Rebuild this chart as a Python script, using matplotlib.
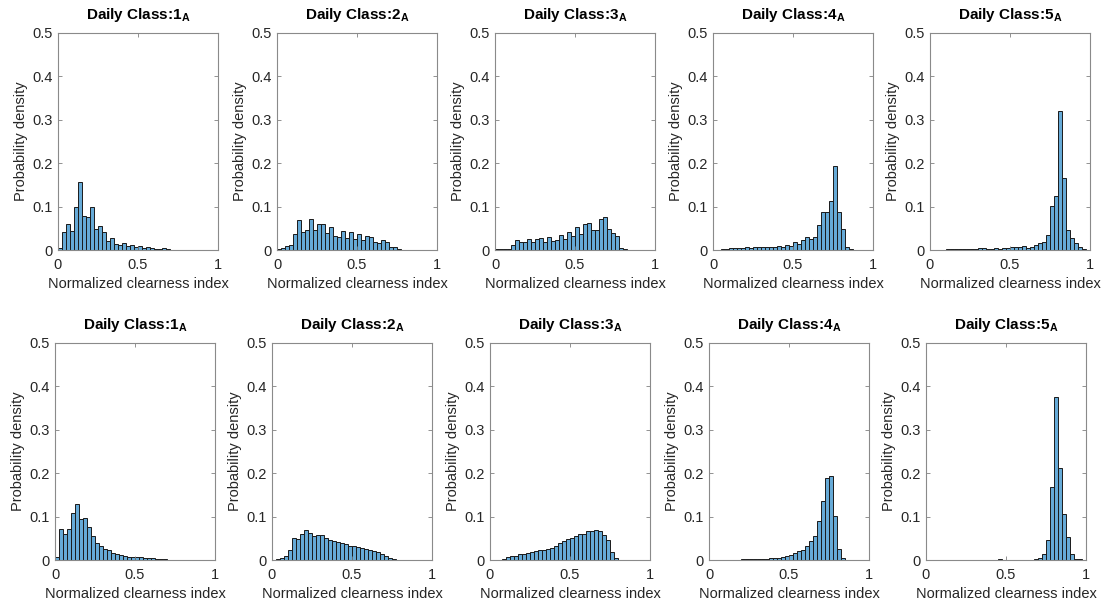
import numpy as np
import matplotlib
matplotlib.use("Agg")
import matplotlib.pyplot as plt

plt.rcParams['font.family'] = ['Liberation Sans', 'DejaVu Sans']
plt.rcParams['mathtext.fontset'] = 'custom'
plt.rcParams['mathtext.rm'] = 'Liberation Sans'
plt.rcParams['mathtext.bf'] = 'Liberation Sans:bold'

bin_edges = np.linspace(0, 1, 41)

top_1 = [0.004,0.042,0.059,0.044,0.100,0.157,0.078,0.076,0.098,0.048,0.055,0.042,0.021,0.027,0.013,0.012,0.016,0.010,0.012,0.007,
         0.010,0.005,0.006,0.005,0.002,0.003,0.004,0.002,0.001,0.0005,0.0005,0.0003,0.0003,0.0002,0.0002,0.0001,0.0001,0,0,0]
top_2 = [0.002,0.004,0.010,0.012,0.037,0.069,0.042,0.045,0.072,0.046,0.061,0.060,0.040,0.054,0.033,0.031,0.044,0.028,0.042,0.025,
         0.037,0.024,0.032,0.029,0.018,0.017,0.023,0.019,0.008,0.006,0.003,0.001,0.0005,0.0003,0.0003,0.0002,0.0002,0.0001,0.0001,0]
top_3 = [0.0015,0.0015,0.003,0.003,0.012,0.023,0.018,0.018,0.025,0.018,0.025,0.028,0.019,0.031,0.021,0.022,0.035,0.025,0.042,0.032,
         0.054,0.038,0.060,0.063,0.045,0.045,0.072,0.077,0.048,0.040,0.033,0.005,0.0015,0.0005,0.0003,0.0002,0.0002,0.0001,0.0001,0]
top_4 = [0.001,0.001,0.0015,0.002,0.005,0.005,0.004,0.004,0.006,0.005,0.008,0.008,0.006,0.008,0.006,0.008,0.010,0.008,0.012,0.009,
         0.018,0.013,0.024,0.031,0.026,0.029,0.058,0.088,0.087,0.113,0.194,0.088,0.049,0.008,0.0015,0.001,0.001,0.0005,0.0005,0]
top_5 = [0.001,0.001,0.001,0.001,0.0015,0.003,0.0015,0.0015,0.0015,0.0015,0.0015,0.003,0.005,0.005,0.0015,0.003,0.005,0.003,0.005,0.004,
         0.008,0.006,0.008,0.009,0.005,0.008,0.012,0.015,0.018,0.034,0.102,0.125,0.320,0.166,0.046,0.027,0.015,0.008,0.0015,0.0005]

bot_1 = [0.006,0.072,0.061,0.071,0.109,0.130,0.095,0.097,0.077,0.055,0.040,0.032,0.025,0.022,0.015,0.013,0.012,0.009,0.008,0.007,
         0.007,0.006,0.005,0.005,0.004,0.003,0.002,0.0015,0.001,0.0005,0.0005,0.0003,0.0002,0.0002,0.0001,0.0001,0,0,0,0]
bot_2 = [0.001,0.003,0.005,0.010,0.024,0.050,0.049,0.059,0.068,0.063,0.055,0.057,0.057,0.051,0.045,0.044,0.041,0.039,0.037,0.033,
         0.033,0.029,0.028,0.025,0.023,0.021,0.018,0.014,0.009,0.005,0.002,0.001,0.0005,0.0003,0.0002,0.0002,0.0001,0.0001,0,0]
bot_3 = [0,0,0.001,0.0015,0.006,0.010,0.009,0.013,0.014,0.017,0.018,0.020,0.024,0.023,0.025,0.028,0.032,0.039,0.043,0.049,
         0.051,0.056,0.061,0.061,0.066,0.067,0.068,0.067,0.058,0.045,0.019,0.004,0.001,0,0,0,0,0,0,0]
bot_4 = [0.0005,0.0005,0.0005,0.0005,0.0005,0.0005,0.001,0.001,0.0015,0.0015,0.0015,0.0015,0.002,0.002,0.003,0.004,0.004,0.005,0.008,0.010,
         0.012,0.017,0.021,0.024,0.032,0.044,0.055,0.090,0.136,0.188,0.194,0.102,0.025,0.004,0.001,0,0,0,0,0]
bot_5 = [0.0002,0.0002,0.0002,0.0002,0.0002,0.0002,0.0002,0.0002,0.0002,0.0002,0.0002,0.0002,0.0002,0.0002,0.0002,0.0002,0.0002,0.0002,0.0015,0.0003,
         0.0003,0.0003,0.0003,0.0003,0.0003,0.0003,0.001,0.002,0.005,0.013,0.045,0.168,0.375,0.211,0.107,0.054,0.013,0.003,0.0015,0]

class_labels = ['1', '2', '3', '4', '5']
y_ticks = [0, 0.1, 0.2, 0.3, 0.4, 0.5]
y_ticklabels = ['0', '0.1', '0.2', '0.3', '0.4', '0.5']
x_ticks = [0, 0.5, 1]
x_ticklabels = ['0', '0.5', '1']

rows = [[top_1, top_2, top_3, top_4, top_5], [bot_1, bot_2, bot_3, bot_4, bot_5]]

W, H = 1111, 610
fig = plt.figure(figsize=(W / 100, H / 100), dpi=100)

row_bottom_px = [250, 560]
row_lefts_px = [[58, 277, 495, 713, 930], [55, 272, 490, 709, 926]]
ax_w, ax_h = 160, 217

face = (0.40, 0.668, 0.845)
axcol = '#262626'

for r in range(2):
    for c in range(5):
        left = row_lefts_px[r][c] / W
        bottom = (H - row_bottom_px[r]) / H
        ax = fig.add_axes([left, bottom, ax_w / W, ax_h / H])
        vals = rows[r][c]
        ax.bar(bin_edges[:-1], vals, width=np.diff(bin_edges), align='edge',
               color=face, edgecolor='#1a1a1a', linewidth=0.7)
        ax.set_xlim(0, 1)
        ax.set_ylim(0, 0.5)
        ax.set_yticks(y_ticks)
        ax.set_yticklabels(y_ticklabels)
        ax.set_xticks(x_ticks)
        ax.set_xticklabels(x_ticklabels)
        ax.tick_params(direction='in', length=3, width=0.6, top=True, right=True,
                       labelsize=10.5, colors='#808080', labelcolor=axcol)
        ax.tick_params(axis='x', pad=6)
        ax.tick_params(axis='y', pad=4)
        for s in ax.spines.values():
            s.set_color('#8a8a8a')
            s.set_linewidth(0.8)
        ax.set_xlabel('Normalized clearness index', fontsize=10.5, color=axcol, labelpad=3)
        ax.set_ylabel('Probability density', fontsize=10.5, color=axcol, labelpad=3)
        ax.set_title(r'Daily Class:$\mathbf{' + class_labels[c] + r'_{A}}$',
                     fontsize=11, fontweight='bold', color='black', pad=10)

fig.savefig('out.png', dpi=100)
